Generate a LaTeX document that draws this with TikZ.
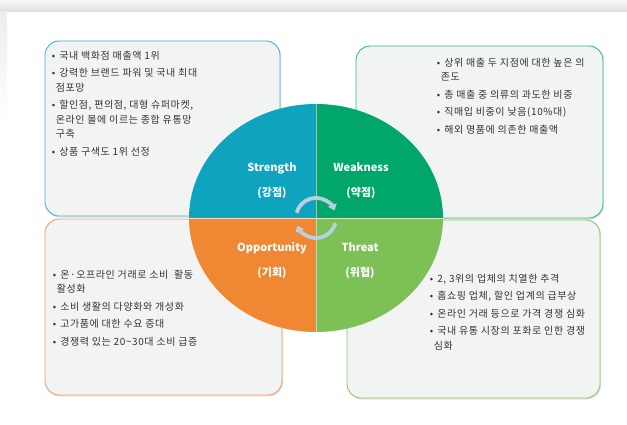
\documentclass[tikz,border=0pt]{standalone}
\usepackage{fontspec}
\setmainfont{Noto Sans CJK KR}
\usepackage{tikz}
\usetikzlibrary{arrows.meta,positioning,calc,shadows}
\definecolor{cStr}{HTML}{0EA3BE}
\definecolor{cWeak}{HTML}{00A66A}
\definecolor{cOpp}{HTML}{F08732}
\definecolor{cThr}{HTML}{7DC055}
\definecolor{cPanel}{HTML}{F2F3F3}
\definecolor{cArc}{HTML}{B7D2DA}
\definecolor{cInk}{HTML}{333333}
\newcommand\itm{\makebox[0.75em][l]{•}}
\newcommand\cnt{\hspace*{4pt}}
\tikzset{
  panel/.style={rounded corners=14pt, draw=#1, line width=0.9pt, fill=cPanel,
                drop shadow={shadow xshift=1.2pt, shadow yshift=-1.5pt, opacity=0.22}},
  note/.style={anchor=north west, align=left, inner sep=0pt, text=cInk,
               font=\fontsize{10}{14.5}\selectfont\addfontfeatures{LetterSpace=6}},
  quad/.style={font=\bfseries\fontsize{11}{25}\selectfont, text=white, align=center},
  cyc/.style={-{Triangle[length=6pt,width=9pt]}, line width=3.8pt, draw=cArc},
}

\begin{document}
\begin{tikzpicture}[x=1pt,y=1pt]
  \useasboundingbox (0,0) rectangle (627,424);
  % page shadow
  \fill[white] (0,0) rectangle (627,424);
  \shade[top color=black!3, bottom color=black!13] (0,412) rectangle (627,424);
  \shade[top color=black!7, bottom color=white] (0,300) rectangle (7,412);

  % the four panels
  \node[panel=cStr!80, minimum width=235pt, minimum height=175pt] (spanel) at (162.5,295.5) {};
  \node[panel=cWeak!80, minimum width=247pt, minimum height=172pt] (wpanel) at (479.5,292) {};
  \node[panel=cOpp!80, minimum width=237pt, minimum height=176pt] (opanel) at (163.5,117) {};
  \node[panel=cThr!90, minimum width=253pt, minimum height=178pt] (tpanel) at (473.5,115) {};

  \node[note] (stxt) at ([shift={(7,-10)}]spanel.north west)
    {\itm 국내 백화점 매출액 1위\\[3pt]
     \itm 강력한 브랜드 파워 및 국내 최대\\\cnt 점포망\\[3pt]
     \itm 할인점, 편의점, 대형 슈퍼마켓,\\\cnt 온라인 몰에 이르는 종합 유통망\\\cnt 구축\\[3pt]
     \itm 상품 구색도 1위 선정};
  \node[note] (wtxt) at ([shift={(81,-12)}]wpanel.north west)
    {\itm 상위 매출 두 지점에 대한 높은 의\\\cnt 존도\\[3pt]
     \itm 총 매출 중 의류의 과도한 비중\\[3pt]
     \itm 직매입 비중이 낮음(10\%대)\\[3pt]
     \itm 해외 명품에 의존한 매출액};
  \node[note] (otxt) at ([shift={(8,-51)}]opanel.north west)
    {\itm 온·오프라인 거래로 소비\ \ 활동\\\cnt 활성화\\[3pt]
     \itm 소비 생활의 다양화와 개성화\\[3pt]
     \itm 고가품에 대한 수요 증대\\[3pt]
     \itm 경쟁력 있는 20\textasciitilde30대 소비 급증};
  \node[note] (ttxt) at ([shift={(83,-54)}]tpanel.north west)
    {\itm 2, 3위의 업체의 치열한 추격\\[3pt]
     \itm 홈쇼핑 업체, 할인 업계의 급부상\\[3pt]
     \itm 온라인 거래 등으로 가격 경쟁 심화\\[3pt]
     \itm 국내 유통 시장의 포화로 인한 경쟁\\\cnt 심화};

  % SWOT disc
  \coordinate (hub) at (316,206);
  \fill[cStr] (hub) -- ++(-127,0) arc[start angle=180, end angle=90, x radius=127, y radius=114] -- cycle;
  \fill[cWeak] (hub) -- ++(0,114) arc[start angle=90, end angle=0, x radius=127, y radius=114] -- cycle;
  \fill[cThr] (hub) -- ++(127,0) arc[start angle=0, end angle=-90, x radius=127, y radius=114] -- cycle;
  \fill[cOpp] (hub) -- ++(0,-114) arc[start angle=-90, end angle=-180, x radius=127, y radius=114] -- cycle;
  \draw[white, line width=0.7pt, opacity=0.7] ($(hub)+(-127,0)$) -- ($(hub)+(127,0)$);
  \draw[white, line width=0.7pt, opacity=0.5] ($(hub)+(0,114)$) -- ($(hub)+(0,-114)$);

  \node[quad] (str) at (272,243.5) {Strength\\(강점)};
  \node[quad] (weak) at (361,243.5) {Weakness\\(약점)};
  \node[quad] (opp) at (272,163.5) {Opportunity\\(기회)};
  \node[quad] (thr) at (360,163.5) {Threat\\(위협)};

  % cycle arrows
  \draw[cyc] ($(hub)+(165:20)$) arc[start angle=165, end angle=22, radius=20];
  \draw[cyc] ($(hub)+(-15:20)$) arc[start angle=-15, end angle=-158, radius=20];
\end{tikzpicture}
\end{document}
